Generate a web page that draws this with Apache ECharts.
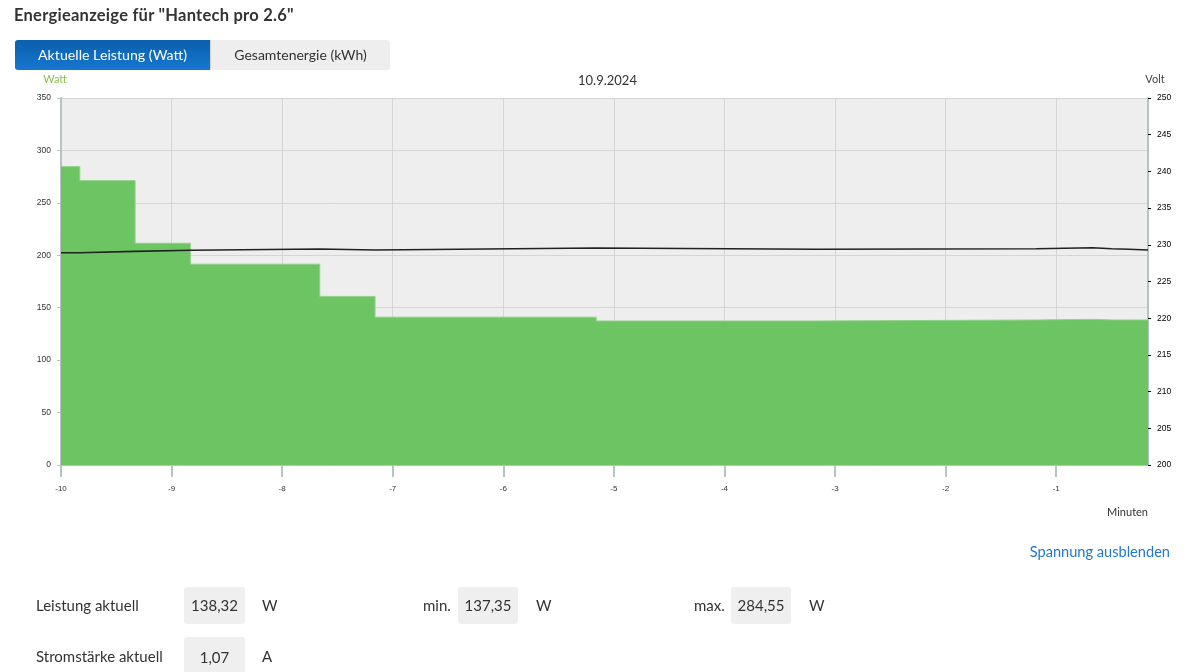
<!DOCTYPE html>
<html>
<head>
<meta charset="utf-8">
<script src="https://cdn.jsdelivr.net/npm/echarts@6/dist/echarts.min.js"></script>
<style>
  html, body { margin:0; padding:0; background:#fff; }
  body { width:1187px; height:672px; position:relative; overflow:hidden; font-family: Lato, "Noto Sans", sans-serif; color:#333; }
  #chart { position:absolute; left:0; top:0; width:1187px; height:672px; }
  .abs { position:absolute; white-space:nowrap; }
  #title { left:14px; top:5px; font-size:16.5px; letter-spacing:0.25px; font-weight:bold; color:#333; }
  #tabs { left:15px; top:40px; width:375px; height:30px; background:#eeeeee; border-radius:3px; }
  #tab1 { position:absolute; left:0; top:0; width:195px; height:30px; border-radius:3px 0 0 3px;
          background:linear-gradient(#0b5fae, #1677cf); color:#fff; font-size:14.2px; line-height:30px; text-align:center; }
  #tab2 { position:absolute; left:195px; top:0; width:180px; height:30px; color:#333; font-size:14px; line-height:30px; text-align:center; border-left:1px solid #d0d0d0; box-sizing:border-box; }
  #link { right:17px; top:543px; font-size:14.6px; color:#2277cc; }
  .lbl { font-size:15px; color:#333; }
  .box { position:absolute; background:#efefef; border-radius:3px; font-size:15px; color:#333; text-align:center; }
</style>
</head>
<body>
<div id="chart"></div>
<div class="abs" id="title">Energieanzeige für "Hantech pro 2.6"</div>
<div class="abs" id="tabs"><div id="tab1">Aktuelle Leistung (Watt)</div><div id="tab2">Gesamtenergie (kWh)</div></div>
<div class="abs" id="link">Spannung ausblenden</div>

<div class="abs lbl" style="left:36px;top:596px;">Leistung aktuell</div>
<div class="box" style="left:184px;top:587px;width:61px;height:37px;line-height:37px;">138,32</div>
<div class="abs lbl" style="left:262px;top:596px;">W</div>
<div class="abs lbl" style="left:423px;top:596px;">min.</div>
<div class="box" style="left:458px;top:587px;width:60px;height:37px;line-height:37px;">137,35</div>
<div class="abs lbl" style="left:536px;top:596px;">W</div>
<div class="abs lbl" style="left:694px;top:596px;">max.</div>
<div class="box" style="left:731px;top:587px;width:60px;height:37px;line-height:37px;">284,55</div>
<div class="abs lbl" style="left:809px;top:596px;">W</div>

<div class="abs lbl" style="left:36px;top:647px;">Stromstärke aktuell</div>
<div class="box" style="left:184px;top:637px;width:61px;height:40px;line-height:40px;">1,07</div>
<div class="abs lbl" style="left:262px;top:647px;">A</div>

<script>
// Time (minutes relative to now) where each step starts; last entry is the end of the data.
const minutes = [-10, -9.83, -9.33, -8.83, -7.66, -7.16, -5.16, -3.17, -1.18, -0.67, -0.50, -0.34, -0.17];
// Power in Watt (value holds from its time until the next one)
const powerW  = [284.55, 271.2, 211.5, 191.5, 160.8, 141.0, 137.35, 138.3, 138.9, 138.32, 138.32, 138.32, 138.32];
// Voltage in Volt
const voltV   = [228.92, 229.11, 229.25, 229.43, 229.29, 229.56, 229.39, 229.47, 229.60, 229.47, 229.39, 229.29, 229.29];
const xTicks  = [-10, -9, -8, -7, -6, -5, -4, -3, -2, -1];
const dateLabel = '10.9.2024';

const chart = echarts.init(document.getElementById('chart'), null, { renderer: 'canvas' });
const axisGrey = '#b7c4c4';
const tickFont = 'Liberation Sans, Arial, sans-serif';

chart.setOption({
  animation: false,
  title: {
    text: dateLabel, left: 573, top: 69,
    textStyle: { fontSize: 13, fontWeight: 'normal', color: '#333', fontFamily: 'Lato, sans-serif' }
  },
  grid: { left: 61, right: 39, top: 98, bottom: 207, show: true, backgroundColor: '#eeeeee', borderWidth: 0 },
  xAxis: {
    type: 'value', min: -10, max: -0.17, interval: 1,
    name: 'Minuten', nameLocation: 'end', nameGap: 0,
    nameTextStyle: { align: 'right', verticalAlign: 'top', padding: [42, 0, 0, 0], fontSize: 11, color: '#333', fontFamily: 'Lato, sans-serif' },
    axisLine: { show: true, onZero: false, lineStyle: { color: axisGrey, width: 1 } },
    axisTick: { show: true, length: 12, lineStyle: { color: axisGrey, width: 2 }, customValues: xTicks },
    axisLabel: { fontSize: 8, color: '#333', margin: 20, fontFamily: tickFont, customValues: xTicks },
    splitLine: { show: true, lineStyle: { color: '#d5d5d5', width: 1 } }
  },
  yAxis: [
    {
      type: 'value', min: 0, max: 350, interval: 50, position: 'left',
      name: 'Watt', nameLocation: 'end', nameGap: 13,
      nameTextStyle: { color: '#8cbf50', fontSize: 11, padding: [0, 12, 0, 0], fontFamily: 'Lato, sans-serif' },
      axisLine: { show: true, lineStyle: { color: axisGrey, width: 2 } },
      axisTick: { show: true, length: 4, lineStyle: { color: axisGrey } },
      axisLabel: { fontSize: 8.5, color: '#333', margin: 10, fontFamily: tickFont },
      splitLine: { show: true, lineStyle: { color: '#d5d5d5', width: 1 } }
    },
    {
      type: 'value', min: 200, max: 250, interval: 5, position: 'right',
      name: 'Volt', nameLocation: 'end', nameGap: 13,
      nameTextStyle: { color: '#444', fontSize: 11, padding: [0, 0, 0, 14], fontFamily: 'Lato, sans-serif' },
      axisLine: { show: true, lineStyle: { color: axisGrey, width: 2 } },
      axisTick: { show: true, length: 3, lineStyle: { color: '#000' } },
      axisLabel: { fontSize: 8.5, color: '#000', margin: 9, fontFamily: tickFont },
      splitLine: { show: false }
    }
  ],
  series: [
    {
      name: 'Leistung', type: 'line', step: 'end', yAxisIndex: 0, showSymbol: false, z: 2,
      data: minutes.map((m, i) => [m, powerW[i]]),
      lineStyle: { color: '#93d18b', width: 1 },
      areaStyle: { color: '#6cc462', opacity: 1 }
    },
    {
      name: 'Spannung', type: 'line', step: 'end', yAxisIndex: 1, showSymbol: false, z: 3,
      data: minutes.map((m, i) => [m, voltV[i]]),
      lineStyle: { color: '#222', width: 1.6 }
    }
  ]
});
</script>
</body>
</html>
